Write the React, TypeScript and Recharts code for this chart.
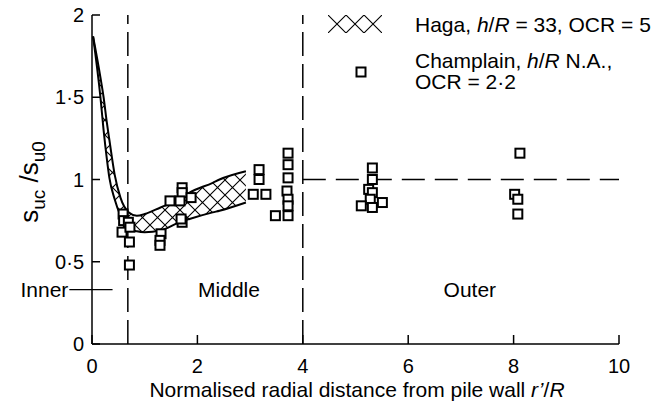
import { Area, ComposedChart, Label, ReferenceDot, ReferenceLine, Scatter, XAxis, YAxis } from "recharts";

const FONT = '"Liberation Sans", Arial, Helvetica, sans-serif';

// Haga band: upper / lower boundary read at shared x positions
const hagaX = [0.02, 0.16, 0.22, 0.28, 0.33, 0.43, 0.54, 0.7, 0.85, 1.0, 1.3, 1.66, 1.85, 2.29, 2.42, 2.92];
const hagaUpper = [1.87, 1.62, 1.5, 1.35, 1.24, 1.03, 0.89, 0.8, 0.78, 0.79, 0.83, 0.88, 0.92, 0.98, 1.0, 1.05];
const hagaLower = [1.87, 1.5, 1.3, 1.13, 1.01, 0.88, 0.78, 0.7, 0.685, 0.68, 0.69, 0.74, 0.76, 0.8, 0.81, 0.86];

// Champlain measurements
const champX = [
  0.59, 0.6, 0.69, 0.57, 0.72, 0.71, 0.71,
  1.31, 1.29, 1.29,
  1.48, 1.71, 1.71, 1.67, 1.88, 1.71, 1.69,
  3.17, 3.17, 3.06, 3.3, 3.48, 3.72, 3.72, 3.72, 3.7, 3.72, 3.72, 3.72,
  5.32, 5.32, 5.25, 5.32, 5.28, 5.11, 5.32, 5.51,
  8.12, 8.02, 8.08, 8.08,
];
const champY = [
  0.79, 0.75, 0.74, 0.68, 0.71, 0.62, 0.48,
  0.67, 0.63, 0.6,
  0.87, 0.95, 0.92, 0.87, 0.89, 0.74, 0.76,
  1.06, 1.0, 0.91, 0.91, 0.78, 1.16, 1.09, 1.01, 0.93, 0.88, 0.84, 0.78,
  1.07, 1.0, 0.94, 0.92, 0.88, 0.84, 0.83, 0.86,
  1.16, 0.91, 0.88, 0.79,
];

const xTicks = [0, 2, 4, 6, 8, 10];
const yTicks = [0, 0.5, 1, 1.5, 2];

const fmt = (v: number) => String(v).replace(".", "·");

function YTick({ x, y, payload }: any) {
  return (
    <g>
      <line x1={x + 8} x2={x + 16} y1={y} y2={y} stroke="#000" strokeWidth={1.5} />
      <text x={x} y={y} dy="0.36em" textAnchor="end" fontSize={20} fontFamily={FONT} fill="#000">
        {fmt(payload.value)}
      </text>
    </g>
  );
}

function XTick({ x, y, payload }: any) {
  return (
    <g>
      <line x1={x} x2={x} y1={y} y2={y - 9} stroke="#000" strokeWidth={1.5} />
      <text x={x} y={y + 29} textAnchor="middle" fontSize={20} fontFamily={FONT} fill="#000">
        {payload.value}
      </text>
    </g>
  );
}

function Square({ cx, cy }: any) {
  return <rect x={cx - 4.5} y={cy - 4.5} width={9} height={9} fill="#fff" stroke="#000" strokeWidth={2} />;
}

function YTitle() {
  return (
    <text
      x={38}
      y={182}
      textAnchor="middle"
      transform="rotate(-90, 38, 182)"
      fontFamily={FONT}
      fontSize={26}
      fill="#000"
    >
      s<tspan fontSize={19} dy={7}>uc</tspan>
      <tspan dy={-7}> /s</tspan>
      <tspan fontSize={19} dy={7}>u0</tspan>
    </text>
  );
}

function XTitle() {
  return (
    <text x={357} y={397} textAnchor="middle" fontFamily={FONT} fontSize={21} fill="#000">
      Normalised radial distance from pile wall <tspan fontStyle="italic">r’</tspan>/<tspan fontStyle="italic">R</tspan>
    </text>
  );
}

function HagaLegend() {
  return (
    <svg width={334} height={100} style={{ position: "absolute", left: 320, top: 0 }}>
      <defs>
        <pattern id="hatchKey" width={18} height={18} patternUnits="userSpaceOnUse" x={8} y={15}>
          <path d="M0,0 L18,18 M18,0 L0,18" stroke="#000" strokeWidth={1.1} />
        </pattern>
      </defs>
      <rect x={8} y={15} width={54} height={18} fill="url(#hatchKey)" />
      <rect x={36.5} y={67.5} width={9} height={9} fill="#fff" stroke="#000" strokeWidth={2} />
      <g fontFamily={FONT} fontSize={21} fill="#000">
        <text x={95} y={32}>
          Haga, <tspan fontStyle="italic">h</tspan>/<tspan fontStyle="italic">R</tspan> = 33, OCR = 5
        </text>
        <text x={95} y={68}>
          Champlain, <tspan fontStyle="italic">h</tspan>/<tspan fontStyle="italic">R</tspan> N.A.,
        </text>
        <text x={95} y={89}>OCR = 2·2</text>
      </g>
    </svg>
  );
}

export default function App() {
  const band = hagaX.map((x, i) => ({ x, range: [hagaLower[i], hagaUpper[i]] }));
  const champ = champX.map((x, i) => ({ x, y: champY[i] }));
  const zoneLabel = { fontSize: 21, fontFamily: FONT, fill: "#000" };

  return (
    <div style={{ position: "absolute", left: 0, top: 0, width: 654, height: 406, background: "#fff" }}>
      <ComposedChart width={654} height={406} data={band} margin={{ top: 15, right: 35, bottom: 0, left: 0 }}>
        <defs>
          <pattern id="hatch" width={15} height={15} patternUnits="userSpaceOnUse">
            <path d="M0,0 L15,15 M15,0 L0,15" stroke="#000" strokeWidth={1.1} />
          </pattern>
        </defs>
        <XAxis
          type="number"
          dataKey="x"
          domain={[0, 10]}
          ticks={xTicks}
          interval={0}
          height={62}
          tickSize={0}
          tickMargin={0}
          tickLine={false}
          tick={<XTick />}
          axisLine={{ stroke: "#000", strokeWidth: 1.5 }}
        >
          <Label content={<XTitle />} />
        </XAxis>
        <YAxis
          type="number"
          domain={[0, 2]}
          ticks={yTicks}
          interval={0}
          width={92}
          tickSize={0}
          tickMargin={8}
          tickLine={false}
          tick={<YTick />}
          axisLine={{ stroke: "#000", strokeWidth: 1.5 }}
        >
          <Label content={<YTitle />} />
        </YAxis>
        <Area
          dataKey="range"
          type="monotone"
          stroke="#000"
          strokeWidth={2}
          fill="url(#hatch)"
          fillOpacity={1}
          dot={false}
          activeDot={false}
          isAnimationActive={false}
        />
        <ReferenceLine x={0.68} stroke="#000" strokeWidth={1.5} strokeDasharray="24 8" />
        <ReferenceLine x={4} stroke="#000" strokeWidth={1.5} strokeDasharray="24 8" />
        <ReferenceLine
          segment={[{ x: 4, y: 1 }, { x: 10, y: 1 }]}
          stroke="#000"
          strokeWidth={1.5}
          strokeDasharray="23 10"
        />
        <ReferenceLine
          segment={[{ x: -0.43, y: 0.33 }, { x: 0.39, y: 0.33 }]}
          ifOverflow="visible"
          stroke="#000"
          strokeWidth={1.2}
          label={{ value: "Inner", position: "left", offset: 1, ...zoneLabel }}
        />
        <ReferenceDot x={2.6} y={0.33} r={0} fill="none" stroke="none" label={{ value: "Middle", position: "center", ...zoneLabel }} />
        <ReferenceDot x={7.17} y={0.33} r={0} fill="none" stroke="none" label={{ value: "Outer", position: "center", ...zoneLabel }} />
        <Scatter data={champ} dataKey="y" shape={<Square />} isAnimationActive={false} />
      </ComposedChart>
      <HagaLegend />
    </div>
  );
}
